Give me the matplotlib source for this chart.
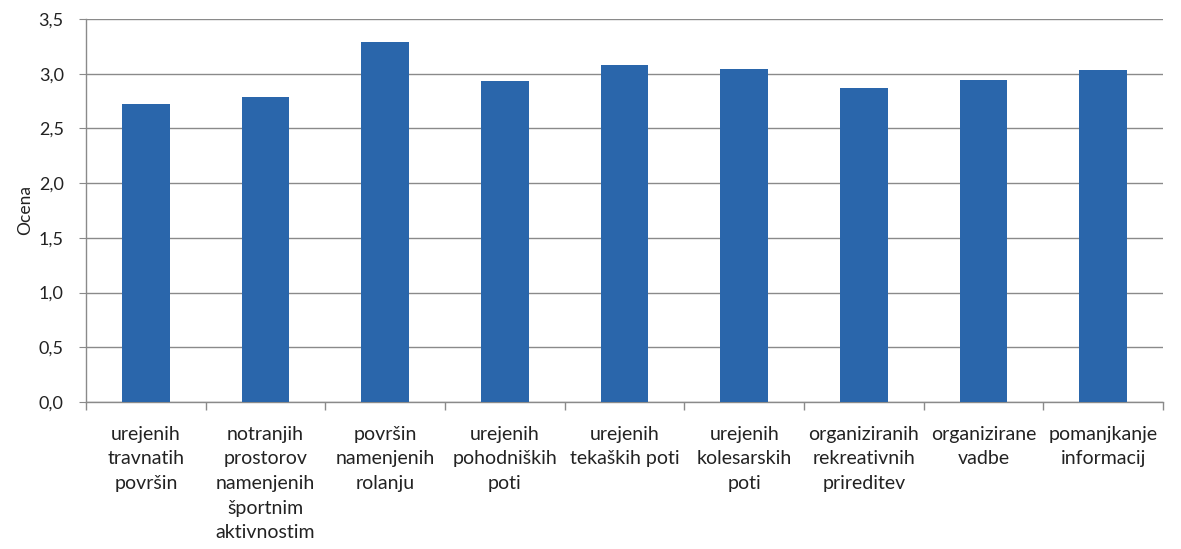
import matplotlib
matplotlib.use("Agg")
import matplotlib.pyplot as plt
import numpy as np
from matplotlib.ticker import FixedLocator, FuncFormatter

categories = [
    "urejenih\ntravnatih\npovršin",
    "notranjih\nprostorov\nnamenjenih\nšportnim\naktivnostim",
    "površin\nnamenjenih\nrolanju",
    "urejenih\npohodniških\npoti",
    "urejenih\ntekaških poti",
    "urejenih\nkolesarskih\npoti",
    "organiziranih\nrekreativnih\nprireditev",
    "organizirane\nvadbe",
    "pomanjkanje\ninformacij",
]
values = [2.72, 2.79, 3.29, 2.93, 3.08, 3.04, 2.87, 2.94, 3.03]
yticks = [0.0, 0.5, 1.0, 1.5, 2.0, 2.5, 3.0, 3.5]
ylabel = "Ocena"

plt.rcParams['font.family'] = ['Lato', 'DejaVu Sans']

fig = plt.figure(figsize=(11.81, 5.49), dpi=100)
ax = fig.add_axes([0.0728, 0.2678, 0.9848 - 0.0728, 0.9654 - 0.2678])

x = np.arange(len(categories))
ax.bar(x, values, width=0.4, color="#2a66ab", zorder=3)

ax.set_xlim(-0.5, len(categories) - 0.5)
ax.set_ylim(0, 3.5)
ax.yaxis.set_major_locator(FixedLocator(yticks))
ax.yaxis.set_major_formatter(FuncFormatter(lambda v, p: f"{v:.1f}".replace(".", ",")))
ax.grid(axis="y", color="#8a8a8a", linewidth=1.0, zorder=0)
ax.set_axisbelow(True)

ax.set_xticks(x)
ax.set_xticklabels(categories, fontsize=14, color="#222222", linespacing=1.55)
ax.tick_params(axis="x", length=0, pad=17)
ax.set_xticks(np.arange(len(categories) + 1) - 0.5, minor=True)
ax.tick_params(axis="x", which="minor", length=6, color="#8a8a8a", width=1)
ax.tick_params(axis="y", length=5, color="#8a8a8a", labelsize=13, labelcolor="#222222", pad=11)

for s in ["top", "right"]:
    ax.spines[s].set_visible(False)
for s in ["left", "bottom"]:
    ax.spines[s].set_color("#8a8a8a")
    ax.spines[s].set_linewidth(1.0)

ax.set_ylabel(ylabel, fontsize=12.5, color="#222222", labelpad=4)

fig.savefig("out.png", dpi=100, facecolor="white")
